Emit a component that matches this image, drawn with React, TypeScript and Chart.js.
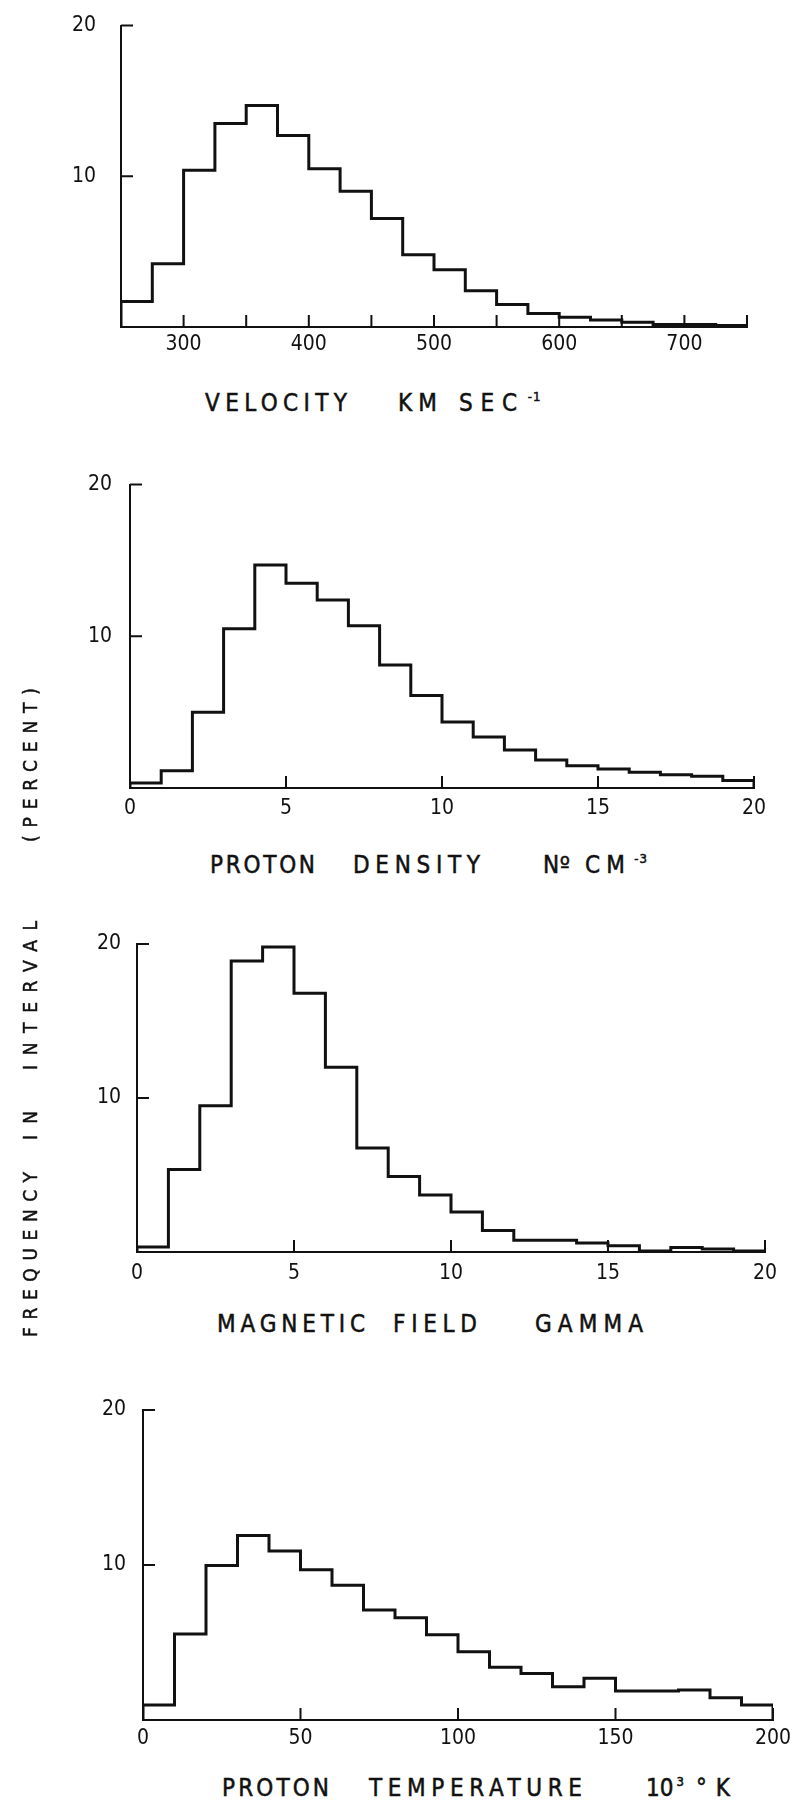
import React, { useEffect, useRef } from "react";
import { Chart, registerables } from "chart.js";
Chart.register(...registerables);

const FONT = "'DejaVu Sans Condensed', 'DejaVu Sans', sans-serif";
const INK = "#111";

// ---------- DATA ----------
const velocityEdges = [250, 275, 300, 325, 350, 375, 400, 425, 450, 475, 500, 525, 550, 575, 600, 625, 650, 675, 700, 725, 750];
const velocityFreq = [1.7, 4.2, 10.4, 13.5, 14.7, 12.7, 10.5, 9.0, 7.2, 4.8, 3.8, 2.4, 1.5, 0.9, 0.65, 0.47, 0.32, 0.17, 0.17, 0.1];
const velocityTickLabels = [300, 400, 500, 600, 700];

const densityEdges = [0, 1, 2, 3, 4, 5, 6, 7, 8, 9, 10, 11, 12, 13, 14, 15, 16, 17, 18, 19, 20];
const densityFreq = [0.33, 1.14, 5.0, 10.5, 14.7, 13.5, 12.4, 10.7, 8.1, 6.1, 4.35, 3.37, 2.5, 1.84, 1.47, 1.25, 1.03, 0.88, 0.77, 0.5];
const densityTickLabels = [0, 5, 10, 15, 20];

const fieldEdges = [0, 1, 2, 3, 4, 5, 6, 7, 8, 9, 10, 11, 12, 13, 14, 15, 16, 17, 18, 19, 20];
const fieldFreq = [0.32, 5.35, 9.5, 18.9, 19.8, 16.8, 12.0, 6.75, 4.9, 3.7, 2.6, 1.4, 0.76, 0.76, 0.58, 0.41, 0.07, 0.3, 0.2, 0.07];
const fieldTickLabels = [0, 5, 10, 15, 20];

const tempEdges = [0, 10, 20, 30, 40, 50, 60, 70, 80, 90, 100, 110, 120, 130, 140, 150, 160, 170, 180, 190, 200];
const tempFreq = [0.97, 5.55, 9.96, 11.9, 10.9, 9.7, 8.7, 7.1, 6.6, 5.5, 4.4, 3.4, 3.0, 2.15, 2.7, 1.87, 1.87, 1.94, 1.44, 0.97];
const tempTickLabels = [0, 50, 100, 150, 200];

const yTickLabels = [10, 20];
const Y_MAX = 20;

// ---------- LAYOUT ----------
type Panel = {
  edges: number[];
  freq: number[];
  labels: number[];
  step: number;
  left: number;
  right: number;
  top: number;
  bottom: number;
  yPad: number;
  xPad: number;
};

const panels: Panel[] = [
  { edges: velocityEdges, freq: velocityFreq, labels: velocityTickLabels, step: 50, left: 121, right: 747, top: 18, bottom: 327, yPad: 25, xPad: 5 },
  { edges: densityEdges, freq: densityFreq, labels: densityTickLabels, step: 5, left: 130, right: 754, top: 484, bottom: 788, yPad: 18, xPad: 8 },
  { edges: fieldEdges, freq: fieldFreq, labels: fieldTickLabels, step: 5, left: 137, right: 765, top: 944, bottom: 1252, yPad: 16, xPad: 9 },
  { edges: tempEdges, freq: tempFreq, labels: tempTickLabels, step: 50, left: 143, right: 773, top: 1410, bottom: 1720, yPad: 17, xPad: 6 },
];

const PAD_TOP = 30;
const X_AXIS_H = 48;
const TICK_FONT = { family: FONT, size: 21 };

const inwardTicks = {
  id: "inwardTicks",
  afterDraw(chart: any) {
    const { ctx, chartArea, scales } = chart;
    const xs = scales.x;
    const ys = scales.y;
    ctx.save();
    ctx.strokeStyle = INK;
    ctx.lineWidth = 2;
    ctx.beginPath();
    xs.ticks.forEach((t: any) => {
      if (t.value <= xs.min) return;
      const px = xs.getPixelForValue(t.value);
      ctx.moveTo(px, chartArea.bottom);
      ctx.lineTo(px, chartArea.bottom - 12);
    });
    ys.ticks.forEach((t: any) => {
      if (t.value <= ys.min) return;
      const py = ys.getPixelForValue(t.value);
      ctx.moveTo(chartArea.left, py);
      ctx.lineTo(chartArea.left + 12, py);
    });
    ctx.stroke();
    ctx.restore();
  },
};

function HistPanel({ p }: { p: Panel }) {
  const ref = useRef<HTMLCanvasElement | null>(null);
  const canvasTop = p.top - PAD_TOP;
  const canvasH = p.bottom - p.top + PAD_TOP + X_AXIS_H;

  useEffect(() => {
    if (!ref.current) return;
    const pts: { x: number; y: number }[] = [{ x: p.edges[0], y: 0 }];
    p.freq.forEach((v, i) => pts.push({ x: p.edges[i], y: v }));
    pts.push({ x: p.edges[p.edges.length - 1], y: 0 });

    const chart = new Chart(ref.current, {
      type: "line",
      data: {
        datasets: [
          {
            data: pts,
            stepped: "before",
            borderColor: INK,
            borderWidth: 3,
            pointRadius: 0,
            fill: false,
            borderJoinStyle: "miter",
          } as any,
        ],
      },
      plugins: [inwardTicks],
      options: {
        responsive: false,
        maintainAspectRatio: false,
        animation: false,
        devicePixelRatio: 1,
        layout: { padding: { left: 0, right: 800 - p.right, top: PAD_TOP, bottom: 0 } },
        plugins: { legend: { display: false }, tooltip: { enabled: false } },
        scales: {
          x: {
            type: "linear",
            min: p.edges[0],
            max: p.edges[p.edges.length - 1],
            grid: { display: false, drawTicks: false },
            border: { display: true, color: INK, width: 2 },
            ticks: {
              stepSize: p.step,
              autoSkip: false,
              maxRotation: 0,
              padding: p.xPad,
              color: INK,
              font: TICK_FONT,
              callback: (v: any) => (p.labels.includes(Number(v)) ? String(v) : ""),
            },
            afterFit: (s: any) => {
              s.height = X_AXIS_H;
            },
          },
          y: {
            type: "linear",
            min: 0,
            max: Y_MAX,
            grid: { display: false, drawTicks: false },
            border: { display: true, color: INK, width: 2 },
            ticks: {
              stepSize: 10,
              padding: p.yPad,
              color: INK,
              font: TICK_FONT,
              callback: (v: any) => (yTickLabels.includes(Number(v)) ? String(v) : ""),
            },
            afterFit: (s: any) => {
              s.width = p.left;
            },
          },
        },
      },
    });
    return () => chart.destroy();
  }, []);

  return (
    <canvas
      ref={ref}
      width={800}
      height={canvasH}
      style={{ position: "absolute", left: 0, top: canvasTop, width: 800, height: canvasH }}
    />
  );
}

// ---------- TEXT ----------
let measureCtx: CanvasRenderingContext2D | null = null;
function measure(text: string, size: number) {
  if (!measureCtx) measureCtx = document.createElement("canvas").getContext("2d");
  if (!measureCtx) return text.length * size * 0.55;
  measureCtx.font = `${size}px ${FONT}`;
  return measureCtx.measureText(text).width;
}
function spacingFor(text: string, size: number, width: number) {
  const n = text.length;
  if (n < 2) return 0;
  return Math.max(0, (width - measure(text, size)) / (n - 1));
}

type Word = { text: string; sup?: string; left: number; width: number };
const titleRows: { yc: number; words: Word[] }[] = [
  {
    yc: 403,
    words: [
      { text: "VELOCITY", left: 205, width: 142 },
      { text: "KM", left: 398, width: 39 },
      { text: "SEC", sup: "-1", left: 459, width: 58 },
    ],
  },
  {
    yc: 865,
    words: [
      { text: "PROTON", left: 210, width: 105 },
      { text: "DENSITY", left: 353, width: 127 },
      { text: "Nº", left: 543, width: 27 },
      { text: "CM", sup: "-3", left: 585, width: 40 },
    ],
  },
  {
    yc: 1324,
    words: [
      { text: "MAGNETIC", left: 217, width: 148 },
      { text: "FIELD", left: 393, width: 84 },
      { text: "GAMMA", left: 535, width: 108 },
    ],
  },
  {
    yc: 1788,
    words: [
      { text: "PROTON", left: 222, width: 107 },
      { text: "TEMPERATURE", left: 369, width: 213 },
      { text: "10", sup: "3", left: 646, width: 24 },
      { text: "°K", left: 696, width: 34 },
    ],
  },
];
const TITLE_SIZE = 24;

const sideWords: { text: string; bottom: number; width: number }[] = [
  { text: "FREQUENCY", bottom: 1337, width: 165 },
  { text: "IN", bottom: 1140, width: 29 },
  { text: "INTERVAL", bottom: 1070, width: 149 },
  { text: "(PERCENT)", bottom: 842, width: 154 },
];
const SIDE_SIZE = 19;
const SIDE_XC = 30;

export default function App() {
  return (
    <div
      style={{
        position: "absolute",
        left: 0,
        top: 0,
        width: 800,
        height: 1806,
        background: "#fff",
        overflow: "hidden",
        color: INK,
        fontFamily: FONT,
      }}
    >
      {panels.map((p, i) => (
        <HistPanel key={i} p={p} />
      ))}
      {titleRows.map((row, ri) =>
        row.words.map((w, wi) => (
          <div
            key={ri + "-" + wi}
            style={{
              position: "absolute",
              left: w.left,
              top: row.yc - 12,
              height: TITLE_SIZE,
              fontSize: TITLE_SIZE,
              lineHeight: TITLE_SIZE + "px",
              whiteSpace: "nowrap",
              WebkitTextStroke: "0.5px " + INK,
            }}
          >
            <span style={{ letterSpacing: spacingFor(w.text, TITLE_SIZE, w.width) }}>{w.text}</span>
            {w.sup ? (
              <span
                style={{
                  position: "relative",
                  top: -10,
                  fontSize: 13,
                  letterSpacing: 1,
                  marginLeft: 3,
                  lineHeight: "13px",
                }}
              >
                {w.sup}
              </span>
            ) : null}
          </div>
        ))
      )}
      {sideWords.map((w, i) => (
        <span
          key={"s" + i}
          style={{
            position: "absolute",
            left: SIDE_XC - 9,
            top: w.bottom,
            fontSize: SIDE_SIZE,
            lineHeight: SIDE_SIZE + "px",
            letterSpacing: spacingFor(w.text, SIDE_SIZE, w.width),
            whiteSpace: "nowrap",
            transformOrigin: "0 0",
            transform: "rotate(-90deg)",
            WebkitTextStroke: "0.5px " + INK,
          }}
        >
          {w.text}
        </span>
      ))}
    </div>
  );
}
